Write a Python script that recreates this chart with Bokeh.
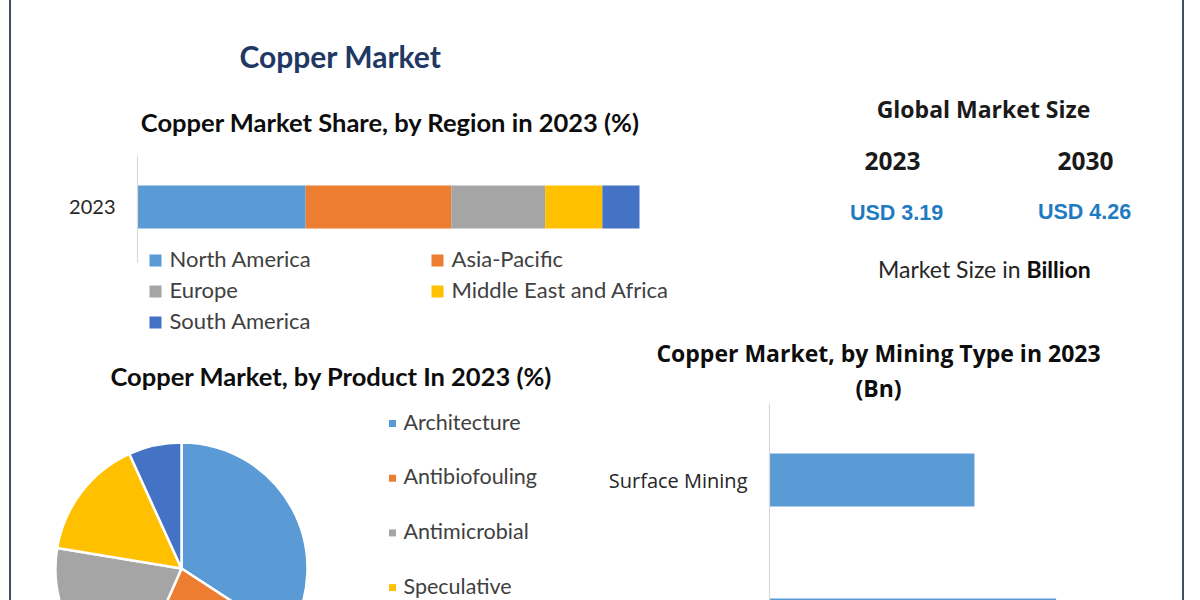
import math
from bokeh.plotting import figure
from bokeh.models import Range1d, FixedTicker, Div, ColumnDataSource
from bokeh.layouts import row, column
from bokeh.core.properties import value
from bokeh.embed import file_html
from bokeh.resources import INLINE

# ---------------- data ----------------
region_year = ["2023"]
regions = ["North America", "Asia-Pacific", "Europe", "Middle East and Africa", "South America"]
region_share = [33.5, 29.0, 18.7, 11.4, 7.4]
region_colors = ["#5b9bd5", "#ed7d31", "#a5a5a5", "#ffc000", "#4472c4"]

products = ["Architecture", "Antibiofouling", "Antimicrobial", "Speculative", "Others"]
product_share = [34.2, 22.4, 21.0, 15.6, 6.8]
product_colors = ["#5b9bd5", "#ed7d31", "#a5a5a5", "#ffc000", "#4472c4"]

market_years = ["2023", "2030"]
market_size = [3.19, 4.26]

mining_types = ["Surface Mining", "Underground Mining"]
mining_value = [1.33, 1.86]
mining_color = "#5b9bd5"

# ---------------- styles ----------------
BORDER = "#3f4d66"
AXIS = "#d9d9d9"
TXT = "#262626"
LEG = "#404040"
NAVY = "#1f3864"
USD = "#1f7bc1"
CALN = "Lato"
SEGN = "Open Sans"
CAL = value(CALN)
SEG = value(SEGN)

SPLIT = 336   # page y where the upper and lower panels meet
H = 600


def base(w, h, xr, yr, **kw):
    opts = dict(width=w, height=h, x_range=xr, y_range=yr, output_backend="svg",
                toolbar_location=None, min_border=0, x_axis_location=None,
                y_axis_location=None)
    opts.update(kw)
    p = figure(**opts)
    p.grid.visible = False
    p.outline_line_color = None
    p.background_fill_color = "white"
    p.border_fill_color = "white"
    return p


def style_yaxis(p, ticks, labels, bounds, font, size):
    ax = p.yaxis[0]
    ax.ticker = FixedTicker(ticks=ticks)
    ax.major_label_overrides = {t: l for t, l in zip(ticks, labels)}
    ax.bounds = bounds
    ax.axis_line_color = AXIS
    ax.axis_line_width = 1.2
    ax.major_tick_line_color = None
    ax.minor_tick_line_color = None
    ax.major_tick_in = 0
    ax.major_tick_out = 0
    ax.major_label_standoff = 22
    ax.major_label_text_font = font
    ax.major_label_text_font_size = size
    ax.major_label_text_color = TXT
    return ax


# ---------------- A: stacked region bar (page x 11..690, y 0..SPLIT) ----------------
A_X0, A_W, A_H = 11, 679, SPLIT
A_FRAME = 137
SXA = 502 / 100.0


def ax_(px):
    return (px - A_FRAME) / SXA


def ay_(py):
    return (206.5 - py) / 100.0


pA = base(A_W, A_H, Range1d(0, ax_(A_X0 + A_W)), Range1d(ay_(A_H), ay_(0)),
          y_axis_location="left", min_border_left=A_FRAME - A_X0)
lefts, rights, acc = [], [], 0.0
for v in region_share:
    lefts.append(acc)
    acc += v
    rights.append(acc)
ypos = [region_year.index("2023")] * len(regions)
pA.hbar(y=ypos, left=lefts, right=rights, height=0.43, fill_color=region_colors, line_color=None)
style_yaxis(pA, [0], region_year, (ay_(262), ay_(155)), CALN, "20px")

pA.text(x=[ax_(340)], y=[ay_(55)], text=["Copper Market"], text_font=CAL, text_font_style="bold",
        text_font_size="30px", text_color=NAVY, text_align="center", text_baseline="middle")
pA.text(x=[ax_(390)], y=[ay_(121)], text=["Copper Market Share, by Region in 2023 (%)"], text_font=CAL,
        text_font_style="bold", text_font_size="25.5px", text_color="#0d0d0d",
        text_align="center", text_baseline="middle")
leg_rows = [260, 291, 322]
leg_mx = [155, 437]
leg_tx = [169, 451]
mx, my, tx, ty = [], [], [], []
for i, name in enumerate(regions):
    c, r = i % 2, i // 2
    mx.append(ax_(leg_mx[c])); my.append(ay_(leg_rows[r]))
    tx.append(ax_(leg_tx[c])); ty.append(ay_(leg_rows[r] - 2))
pA.scatter(x=mx, y=my, marker="square", size=12, fill_color=region_colors, line_color=None)
pA.text(x=tx, y=ty, text=regions, text_font=CAL, text_font_size="22px", text_color=LEG,
        text_align="left", text_baseline="middle")

# ---------------- R1: global market size (page x 690..1182, y 0..SPLIT) ----------------
pR = base(492, SPLIT, Range1d(690, 1182), Range1d(SPLIT, 0))
pR.text(x=[983], y=[108], text=["Global Market Size"], text_font=SEG, text_font_style="bold",
        text_font_size="23px", text_color="#1a1a1a", text_align="center", text_baseline="middle")
yr_x = [892, 1085]
usd_x = [896, 1084]
pR.text(x=yr_x, y=[160, 160], text=market_years, text_font=SEG, text_font_style="bold",
        text_font_size="24.5px", text_color="#1a1a1a", text_align="center", text_baseline="middle")
pR.text(x=usd_x, y=[212, 211], text=["USD %.2f" % v for v in market_size],
        text_font=value("Liberation Sans"), text_font_style="bold", text_font_size="21.5px",
        text_color=USD, text_align="center", text_baseline="middle")
pR.text(x=[1020], y=[268], text=["Market Size in"], text_font=CAL, text_font_size="23px",
        text_color=TXT, text_align="right", text_baseline="middle")
pR.text(x=[1026], y=[268], text=["Billion"], text_font=CAL, text_font_style="bold",
        text_font_size="23px", text_color="#0d0d0d", text_align="left", text_baseline="middle")

# ---------------- Pie: by product (page x 11..600, y SPLIT..600) ----------------
pP = base(589, H - SPLIT, Range1d(11, 600), Range1d(-H, -SPLIT))
tot = float(sum(product_share))
starts, ends, acc = [], [], 0.0
for v in product_share:
    starts.append(math.pi / 2 - 2 * math.pi * acc / tot)
    acc += v
    ends.append(math.pi / 2 - 2 * math.pi * acc / tot)
src = ColumnDataSource(dict(start=starts, end=ends, color=product_colors, name=products))
pP.wedge(x=181, y=-568, radius=126, start_angle="start", end_angle="end", direction="clock",
         fill_color="color", line_color="white", line_width=2.5, source=src)
pP.text(x=[331], y=[-375], text=["Copper Market, by Product In 2023 (%)"], text_font=CAL,
        text_font_style="bold", text_font_size="25.5px", text_color="#0d0d0d",
        text_align="center", text_baseline="middle")
# legend entries that fall inside the visible area (the last one lies below the crop)
ly_all = [423 + 54.7 * i for i in range(len(products))]
vis = [i for i, yy in enumerate(ly_all) if yy < H - 10]
pP.scatter(x=[392] * len(vis), y=[-ly_all[i] for i in vis], marker="square", size=7,
           fill_color=[product_colors[i] for i in vis], line_color=None)
pP.text(x=[403] * len(vis), y=[-(ly_all[i] - 2) for i in vis], text=[products[i] for i in vis],
        text_font=CAL, text_font_size="21.5px", text_color=LEG, text_align="left",
        text_baseline="middle")

# ---------------- Mining type (page x 600..1182, y SPLIT..600) ----------------
M_AXIS = 769
SXM = 154.1
BAND = 145.0


def mx_(px):
    return (px - M_AXIS) / SXM


def my_(py):
    return (py - 479.5) / BAND


pMB = base(582, H - SPLIT, Range1d(mx_(600), mx_(1182)), Range1d(my_(H), my_(SPLIT)),
           y_axis_location="left")
mpos = list(range(len(mining_types)))
pMB.hbar(y=mpos, left=0, right=mining_value, height=53 / BAND, fill_color=mining_color, line_color=None)
yax = style_yaxis(pMB, mpos, mining_types, (my_(403), my_(800)), SEGN, "20px")
yax.fixed_location = 0
pMB.text(x=[mx_(878), mx_(878)], y=[my_(352), my_(387)],
         text=["Copper Market, by Mining Type in 2023", "(Bn)"], text_font=SEG,
         text_font_style="bold", text_font_size="23px", text_color="#0d0d0d",
         text_align="center", text_baseline="middle")

# ---------------- layout ----------------
spacer = Div(width=9, height=H, margin=0)
lb = Div(width=2, height=H, margin=0, styles={"background-color": BORDER})
rb = Div(width=2, height=H, margin=0, styles={"background-color": BORDER})
top = row(pA, pR, spacing=0)
bottom = row(pP, pMB, spacing=0)
main = column(top, bottom, spacing=0)
layout = row(spacer, lb, main, rb, spacing=0)

open("out.html", "w").write(file_html(layout, INLINE))
